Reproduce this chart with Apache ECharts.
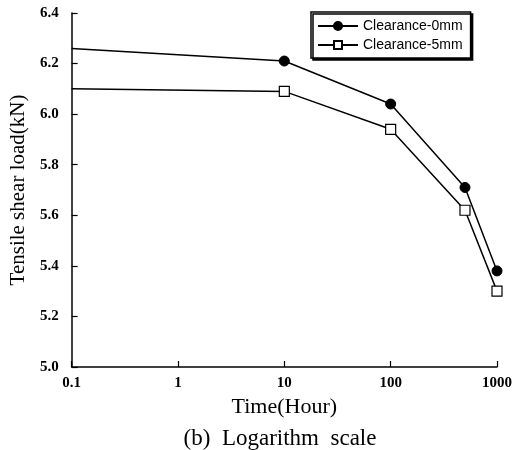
<!DOCTYPE html>
<html>
<head>
<meta charset="utf-8">
<script src="https://cdn.jsdelivr.net/npm/echarts@6/dist/echarts.min.js"></script>
<style>
  html, body { margin: 0; padding: 0; background: #fff; }
  #main { width: 524px; height: 450px; }
</style>
</head>
<body>
<div id="main"></div>
<script>
// time in hours (log axis), load in kN
const time = [0.1, 10, 100, 500, 1000];
const clear0 = [6.26, 6.21, 6.04, 5.71, 5.38];
const clear5 = [6.10, 6.09, 5.94, 5.62, 5.30];
const xTicks = [0.1, 1, 10, 100, 1000];

const serif = '"Liberation Serif", "Times New Roman", serif';
const sans = '"Liberation Sans", Arial, sans-serif';

function pts(ys) {
  // first point (0.1) is just where the line starts, no marker
  return time.map(function (t, i) {
    const p = { value: [t, ys[i]] };
    if (i === 0) p.symbol = 'none';
    return p;
  });
}

const chart = echarts.init(document.getElementById('main'), null, { renderer: 'canvas' });

const option = {
  backgroundColor: '#fff',
  animation: false,
  title: {
    text: '(b)  Logarithm  scale',
    left: 275,
    textAlign: 'center',
    top: 422,
    textStyle: { fontFamily: serif, fontSize: 23, fontWeight: 'normal', color: '#000' }
  },
  legend: {
    orient: 'vertical',
    left: 311,
    top: 12,
    padding: [7, 8, 6, 6],
    itemGap: 5,
    itemWidth: 40,
    itemHeight: 10,
    borderColor: '#000',
    borderWidth: 1.5,
    backgroundColor: '#fff',
    shadowColor: '#000',
    shadowOffsetX: 2,
    shadowOffsetY: 2,
    shadowBlur: 0,
    textStyle: { fontFamily: sans, fontSize: 14, color: '#000', padding: [0, 0, 0, 0] },
    data: ['Clearance-0mm', 'Clearance-5mm']
  },
  grid: { left: 69, right: 27, top: 13, bottom: 83 },
  xAxis: {
    type: 'log',
    logBase: 10,
    min: 0.1,
    max: 1000,
    name: 'Time(Hour)',
    nameLocation: 'middle',
    nameGap: 27,
    nameTextStyle: { fontFamily: serif, fontSize: 22, color: '#000' },
    axisLine: { lineStyle: { color: '#000', width: 1.5 } },
    axisTick: { inside: true, length: 6, lineStyle: { color: '#000', width: 1.2 } },
    minorTick: { show: false },
    splitLine: { show: false },
    axisLabel: {
      margin: 9,
      fontFamily: serif, fontSize: 15, fontWeight: 'bold', color: '#000',
      formatter: function (v) {
        const hit = xTicks.find(function (t) { return Math.abs(t - v) / t < 1e-6; });
        return hit !== undefined ? String(hit) : '';
      }
    }
  },
  yAxis: {
    type: 'value',
    min: 5.0,
    max: 6.4,
    interval: 0.2,
    name: 'Tensile shear load(kN)',
    nameLocation: 'middle',
    nameGap: 36,
    nameTextStyle: { fontFamily: serif, fontSize: 21, color: '#000' },
    axisLine: { show: true, lineStyle: { color: '#000', width: 1.5 } },
    axisTick: { show: true, inside: true, length: 6, lineStyle: { color: '#000', width: 1.2 } },
    splitLine: { show: false },
    axisLabel: {
      margin: 13,
      fontFamily: serif, fontSize: 15, fontWeight: 'bold', color: '#000',
      formatter: function (v) { return v.toFixed(1); }
    }
  },
  series: [
    {
      name: 'Clearance-0mm',
      type: 'line',
      symbol: 'circle',
      symbolSize: 10,
      lineStyle: { color: '#000', width: 1.5 },
      itemStyle: { color: '#000', borderColor: '#000', borderWidth: 1 },
      data: pts(clear0)
    },
    {
      name: 'Clearance-5mm',
      type: 'line',
      symbol: 'rect',
      symbolSize: 10,
      lineStyle: { color: '#000', width: 1.5 },
      itemStyle: { color: '#fff', borderColor: '#000', borderWidth: 1.2 },
      data: pts(clear5)
    }
  ]
};

chart.setOption(option);
</script>
</body>
</html>
